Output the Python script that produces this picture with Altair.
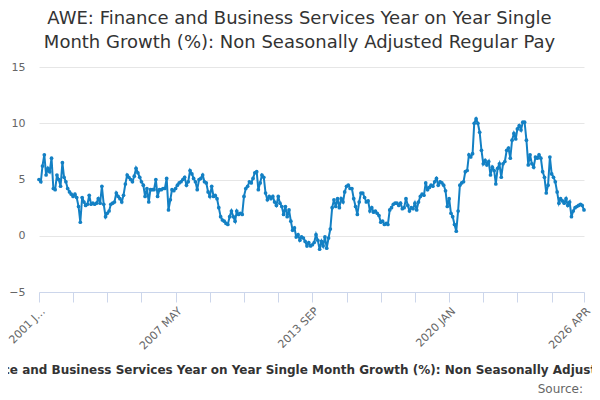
import altair as alt
import pandas as pd

# ---- data (monthly) ----
start_year = 2001
y2001 = [5.0, 4.8, 6.2, 7.2, 5.4, 6.0, 5.7, 6.9, 4.2, 4.1, 5.4, 5.0]
y2002 = [4.4, 6.5, 5.2, 4.8, 4.2, 3.9, 3.7, 3.5, 3.7, 3.4, 2.6, 1.2]
y2003 = [3.4, 3.0, 2.7, 2.8, 3.6, 2.8, 2.9, 2.8, 2.9, 3.3, 2.9, 4.4]
y2004 = [2.8, 1.7, 2.0, 2.2, 2.8, 2.9, 3.0, 3.8, 3.5, 3.3, 3.0, 3.6]
y2005 = [4.6, 5.4, 5.2, 5.0, 4.8, 5.3, 6.0, 5.6, 5.2, 4.8, 4.5, 3.5]
y2006 = [4.2, 3.0, 4.1, 4.1, 4.1, 5.0, 3.5, 4.1, 4.1, 4.2, 4.2, 5.1]
y2007 = [2.3, 3.2, 4.1, 4.0, 4.2, 4.5, 4.7, 4.8, 5.0, 5.2, 4.5, 4.8]
y2008 = [5.8, 5.5, 5.1, 4.8, 4.1, 5.0, 5.1, 5.4, 4.8, 4.7, 3.9, 3.5]
y2009 = [4.4, 3.5, 3.6, 3.3, 2.5, 1.7, 1.4, 1.3, 1.1, 1.0, 1.7, 2.2]
y2010 = [1.7, 1.3, 2.2, 1.9, 2.0, 1.9, 3.5, 4.2, 4.4, 4.8, 4.7, 5.1]
y2011 = [5.6, 5.7, 4.1, 4.7, 5.4, 5.2, 3.8, 3.2, 3.5, 3.3, 3.5, 3.0]
y2012 = [2.7, 3.5, 2.9, 2.6, 1.9, 2.6, 1.7, 2.3, 1.3, 0.5, 0.7, -0.1]
y2013 = [0.1, -0.4, -0.1, -0.2, -0.5, -0.9, -0.6, -0.9, -0.8, -0.6, 0.1, -0.4]
y2014 = [-1.2, -0.5, -0.9, -0.1, -1.1, -0.2, 0.6, 2.5, 3.2, 2.6, 3.3, 2.5]
y2015 = [3.3, 3.0, 3.9, 4.4, 4.5, 4.2, 4.2, 3.3, 2.6, 1.9, 3.0, 3.8]
y2016 = [3.8, 3.4, 3.0, 3.1, 2.2, 2.5, 2.1, 2.2, 2.0, 1.8, 1.2, 1.3]
y2017 = [1.0, 1.1, 1.0, 2.3, 2.5, 2.8, 2.9, 2.9, 2.7, 2.9, 2.4, 2.5]
y2018 = [3.3, 2.7, 2.2, 2.5, 2.4, 2.9, 2.3, 3.0, 3.5, 3.7, 3.6, 4.7]
y2019 = [4.1, 4.3, 4.5, 4.4, 4.8, 5.1, 4.5, 4.8, 4.7, 4.5, 4.0, 2.6]
y2020 = [3.3, 2.0, 1.7, 1.0, 0.4, 2.2, 4.5, 4.7, 4.8, 5.7, 5.8, 7.2]
y2021 = [7.0, 7.3, 10.0, 10.4, 10.0, 9.2, 7.6, 6.4, 6.7, 6.3, 6.6, 5.4]
y2022 = [6.1, 5.8, 4.6, 6.0, 6.4, 5.2, 6.4, 6.6, 7.6, 7.8, 6.9, 8.5]
y2023 = [9.1, 8.6, 9.5, 9.8, 9.4, 10.1, 10.1, 8.5, 6.3, 7.2, 6.4, 6.1]
y2024 = [7.0, 6.9, 7.2, 6.9, 5.7, 5.2, 3.8, 4.5, 7.0, 5.5, 5.2, 4.8]
y2025 = [3.9, 2.9, 3.3, 3.1, 2.9, 3.3, 2.7, 3.0, 1.7, 2.2, 2.5, 2.6]
y2026 = [2.7, 2.8, 2.7, 2.3]

years = [y2001, y2002, y2003, y2004, y2005, y2006, y2007, y2008, y2009,
         y2010, y2011, y2012, y2013, y2014, y2015, y2016, y2017, y2018,
         y2019, y2020, y2021, y2022, y2023, y2024, y2025, y2026]

# tick months (index from 2001 JAN) and their labels
tick_months = [0, 19, 38, 57, 76, 95, 114, 133, 152, 171, 190, 209, 228, 247, 266, 285, 303]
label_months = [0, 76, 152, 228, 303]
tick_labels = ["2001 J\u2026", "2007 MAY", "2013 SEP", "2020 JAN", "2026 APR"]

title_lines = ["AWE: Finance and Business Services Year on Year Single",
               "Month Growth (%): Non Seasonally Adjusted Regular Pay"]
axis_title = ("AWE: Finance and Business Services Year on Year Single Month Growth (%): "
              "Non Seasonally Adjusted Regular Pay")
source_text = ["Source:"]
y_ticks = [-5, 0, 5, 10, 15]

BLUE = "#1380c4"

rows = []
for i, vals in enumerate(years):
    for j, v in enumerate(vals):
        rows.append({"date": f"{start_year + i}-{j + 1:02d}-01", "value": v})
df = pd.DataFrame(rows)


def month_key(m):
    return f"{start_year + m // 12}-{m % 12 + 1:02d}"


tick_values = [alt.DateTime(year=start_year + m // 12, month=m % 12 + 1, date=1, utc=True)
               for m in tick_months]

expr = "''"
for m, lab in reversed(list(zip(label_months, tick_labels))):
    expr = f"utcFormat(datum.value, '%Y-%m') == '{month_key(m)}' ? '{lab}' : ({expr})"

line = alt.Chart(df).mark_line(
    color=BLUE, strokeWidth=2,
    point=alt.OverlayMarkDef(filled=True, size=14, color=BLUE, opacity=1),
).encode(
    x=alt.X("date:T", scale=alt.Scale(type="utc", nice=False),
            axis=alt.Axis(values=tick_values, labelExpr=expr, labelAngle=315,
                          labelAlign="right", labelBaseline="top",
                          labelFontSize=11, labelColor="#666666", labelPadding=3,
                          labelFlush=False, labelOverlap=False, labelBound=False,
                          domainColor="#ccd6eb", tickColor="#ccd6eb", tickSize=10,
                          grid=False, title=axis_title, titleFontSize=12,
                          titleFontWeight="bold", titleColor="#333333",
                          titleLimit=3000, titleY=72, titleBaseline="top")),
    y=alt.Y("value:Q", scale=alt.Scale(domain=[-5, 15], nice=False, zero=False),
            axis=alt.Axis(values=y_ticks, title=None, domain=False, ticks=False,
                          tickSize=0, labelPadding=14, labelFontSize=11,
                          labelColor="#666666", gridColor="#e6e6e6")),
)

source = alt.Chart(pd.DataFrame({"t": source_text})).mark_text(
    align="right", baseline="alphabetic", fontSize=12, color="#666666"
).encode(text="t:N", x=alt.value(544), y=alt.value(326))

chart = alt.layer(line, source).properties(
    width=545, height=225,
    autosize=alt.AutoSizeParams(type="none"),
    padding={"left": 31, "top": 59, "right": 8, "bottom": 104},
    title=alt.TitleParams(text=title_lines, fontSize=18, fontWeight="normal",
                          color="#333333", lineHeight=24, dx=-12, offset=9,
                          anchor="middle"),
).configure(font="DejaVu Sans").configure_view(stroke=None)

chart.save("out.html", embed_options={"renderer": "svg", "actions": False})
